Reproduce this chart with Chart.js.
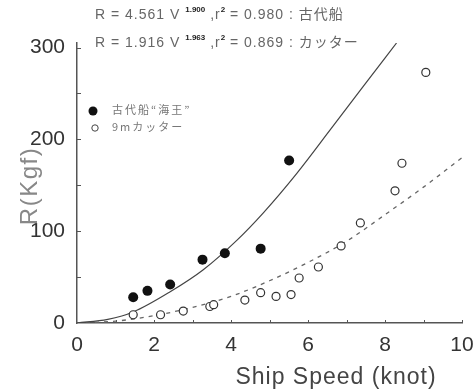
<!DOCTYPE html>
<html>
<head>
<meta charset="utf-8">
<script src="https://cdn.jsdelivr.net/npm/chart.js@4.4.1/dist/chart.umd.min.js"></script>
<style>
html,body{margin:0;padding:0;background:#fff;}
#wrap{width:476px;height:392px;position:relative;}
</style>
</head>
<body>
<div id="wrap"><canvas id="c" width="476" height="392"></canvas></div>
<script>
// Ancient ship "Kaio" (filled)
const speedKaio = [1.46, 1.83, 2.42, 3.26, 3.84, 4.77, 5.51];
const resistKaio = [28, 35, 42, 69, 76, 81, 177];
// 9m cutter (open)
const speedCutter = [1.46, 2.17, 2.76, 3.45, 3.55, 4.36, 4.77, 5.17, 5.56, 5.77, 6.27, 6.86, 7.36, 8.26, 8.44, 9.06];
const resistCutter = [9, 9, 13, 18, 20, 25, 33, 29, 31, 49, 61, 84, 109, 144, 174, 273];
// fitted curves
const fitKaioX = [0, 0.8, 1.46, 2.42, 3.28, 4.15, 4.84, 5.71, 6.57, 7.44, 8.30];
const fitKaioY = [0, 4, 12, 34, 58, 90, 120, 163, 210, 258, 305];
const fitCutterX = [0, 1, 2, 3, 4, 5, 6, 7, 8, 9, 10];
const fitCutterY = [0, 2, 8, 17, 29, 46, 66, 89, 118, 148, 180];
// axis ticks
const xTickValues = [0, 2, 4, 6, 8, 10];
const yTickValues = [0, 100, 200, 300];
const legendLabels = ['古代船“海王”', '9mカッター'];

const toPts = (xs, ys) => xs.map((x, i) => ({x: x, y: ys[i]}));

const decor = {
  id: 'decor',
  afterDraw(chart) {
    const ctx = chart.ctx;
    const xs = chart.scales.x, ys = chart.scales.y;
    ctx.save();
    // inner ticks
    ctx.strokeStyle = '#555';
    ctx.lineWidth = 1;
    for (let v = 50; v <= 300; v += 50) {
      const py = Math.round(ys.getPixelForValue(v)) + 0.5;
      ctx.beginPath(); ctx.moveTo(xs.left, py); ctx.lineTo(xs.left + 4, py); ctx.stroke();
    }
    for (let v = 1; v <= 10; v += 1) {
      const px = Math.round(xs.getPixelForValue(v)) + 0.5;
      ctx.beginPath(); ctx.moveTo(px, ys.bottom); ctx.lineTo(px, ys.bottom - 3); ctx.stroke();
    }
    // axis titles
    ctx.fillStyle = '#444';
    ctx.font = '23px "Liberation Sans", Arial, sans-serif';
    ctx.letterSpacing = '1px';
    ctx.textAlign = 'center'; ctx.textBaseline = 'middle';
    ctx.fillText('Ship Speed (knot)', 336, 378);
    ctx.save();
    ctx.translate(30, 186); ctx.rotate(-Math.PI / 2);
    ctx.fillStyle = '#888';
    ctx.font = '24px "Liberation Sans", Arial, sans-serif';
    ctx.letterSpacing = '1.5px';
    ctx.fillText('R(Kgf)', 0, 0);
    ctx.restore();
    // equations
    const drawEq = (y, parts) => {
      let x = 95;
      ctx.textAlign = 'left';
      parts.forEach(p => {
        ctx.font = p.sup ? 'bold 8px "Liberation Sans", Arial, sans-serif' : '14px "Liberation Sans", Arial, "Noto Sans CJK JP", sans-serif';
        ctx.letterSpacing = p.sup ? '0px' : '1px';
        ctx.fillStyle = p.sup ? '#222' : '#666';
        ctx.fillText(p.t, x, p.sup ? y - 5 : y);
        x += ctx.measureText(p.t).width;
      });
    };
    ctx.textBaseline = 'middle';
    drawEq(15, [{t: 'R = 4.561 V '}, {t: '1.900', sup: true}, {t: ' ,r'}, {t: '2', sup: true}, {t: ' = 0.980 : 古代船'}]);
    drawEq(43, [{t: 'R = 1.916 V '}, {t: '1.963', sup: true}, {t: ' ,r'}, {t: '2', sup: true}, {t: ' = 0.869 : カッター'}]);
    // legend
    ctx.fillStyle = '#111';
    ctx.beginPath(); ctx.arc(93, 111, 4.5, 0, Math.PI * 2); ctx.fill();
    ctx.strokeStyle = '#444'; ctx.fillStyle = '#fff';
    ctx.beginPath(); ctx.arc(95, 128, 3.2, 0, Math.PI * 2); ctx.fill(); ctx.stroke();
    ctx.fillStyle = '#777';
    ctx.font = '11px "Noto Sans CJK JP", sans-serif';
    ctx.letterSpacing = '2px';
    ctx.textAlign = 'left';
    ctx.fillText(legendLabels[0], 112, 110);
    ctx.fillText(legendLabels[1], 112, 127);
    ctx.restore();
  }
};

new Chart(document.getElementById('c'), {
  type: 'scatter',
  data: {
    datasets: [
      {type: 'line', label: 'fit1', data: toPts(fitKaioX, fitKaioY), borderColor: '#444', borderWidth: 1.2, pointRadius: 0, cubicInterpolationMode: 'monotone', fill: false, order: 3},
      {type: 'line', label: 'fit2', data: toPts(fitCutterX, fitCutterY), borderColor: '#666', borderWidth: 1.3, borderDash: [4, 5], pointRadius: 0, cubicInterpolationMode: 'monotone', fill: false, order: 4},
      {label: legendLabels[0], data: toPts(speedKaio, resistKaio), pointRadius: 5, pointBackgroundColor: '#111', pointBorderColor: '#111', pointBorderWidth: 0, order: 1},
      {label: legendLabels[1], data: toPts(speedCutter, resistCutter), pointRadius: 4, pointBackgroundColor: '#fff', pointBorderColor: '#333', pointBorderWidth: 1.2, order: 2}
    ]
  },
  options: {
    responsive: false,
    animation: false,
    events: [],
    layout: {padding: {top: 43, right: 14, left: 0, bottom: 0}},
    plugins: {legend: {display: false}, tooltip: {enabled: false}},
    scales: {
      x: {
        type: 'linear', min: 0, max: 10,
        afterBuildTicks: s => { s.ticks = xTickValues.map(v => ({value: v})); },
        afterFit: s => { s.height = 69; },
        grid: {display: false},
        border: {display: true, color: '#555', width: 1.5},
        ticks: {color: '#333', padding: 2, font: {family: '"Liberation Sans", Arial, sans-serif', size: 21}}
      },
      y: {
        type: 'linear', min: 0, max: 305,
        afterBuildTicks: s => { s.ticks = yTickValues.map(v => ({value: v})); },
        afterFit: s => { s.width = 77; },
        grid: {display: false},
        border: {display: true, color: '#555', width: 1.5},
        ticks: {color: '#333', padding: 4, font: {family: '"Liberation Sans", Arial, sans-serif', size: 21}}
      }
    }
  },
  plugins: [decor]
});
</script>
</body>
</html>
